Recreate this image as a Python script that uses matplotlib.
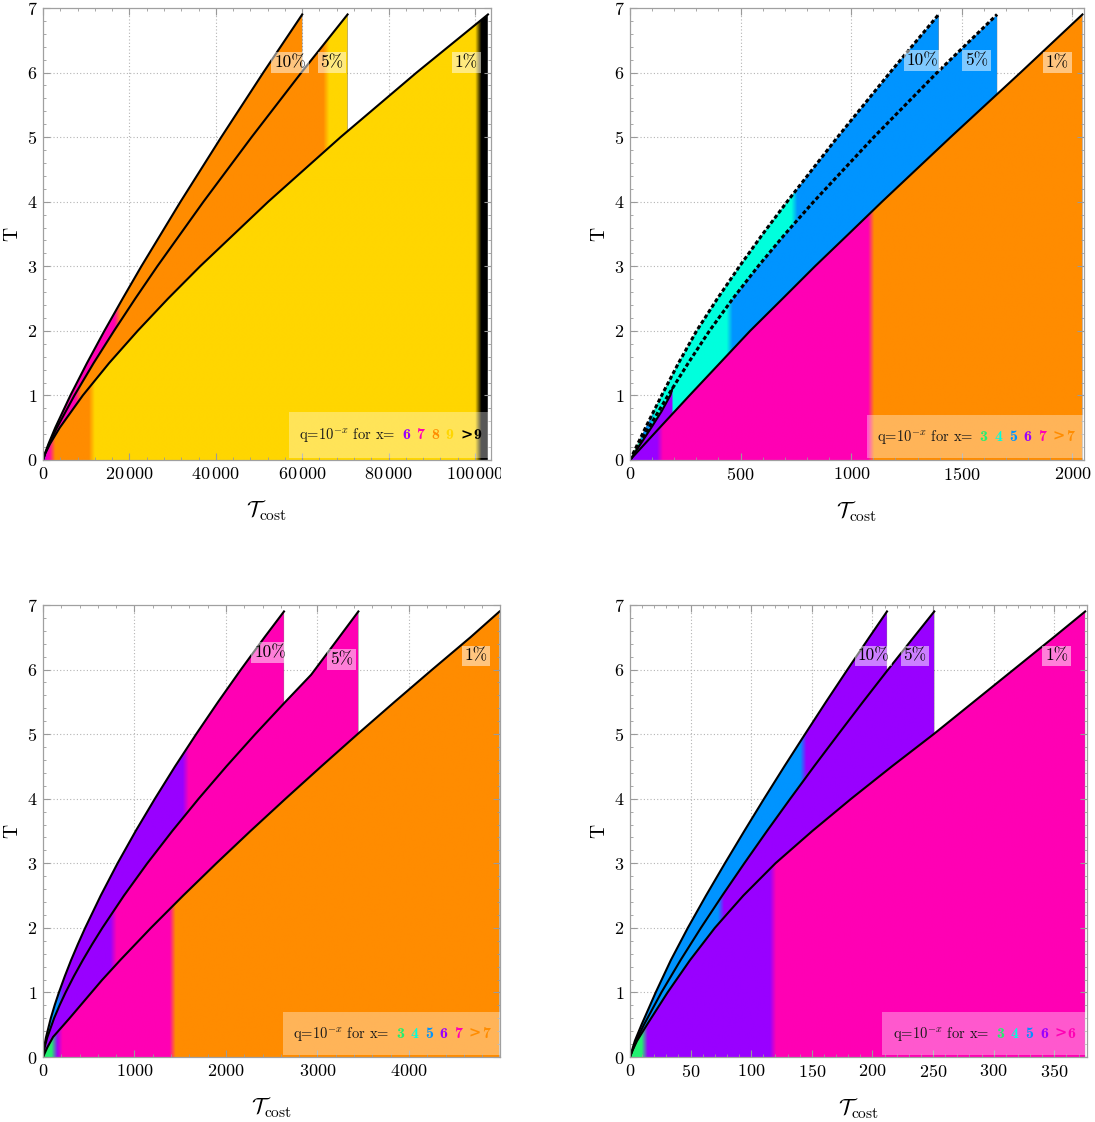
import numpy as np
import matplotlib
matplotlib.use("Agg")
import matplotlib.pyplot as plt
import matplotlib.colors as mcolors
from matplotlib.patches import Rectangle
from matplotlib.offsetbox import TextArea, HPacker, AnchoredOffsetbox
from matplotlib.ticker import MultipleLocator, FuncFormatter

plt.rcParams["font.family"] = ["cmr10", "DejaVu Serif"]
plt.rcParams["mathtext.fontset"] = "cm"
plt.rcParams["axes.unicode_minus"] = False
plt.rcParams["axes.formatter.use_mathtext"] = True

# colour for each exponent x of q = 10^-x (10 stands for "above 9")
Q_COLOURS = {3: "#22f070", 4: "#00ffdd", 5: "#0094ff", 6: "#9900ff",
             7: "#ff00b4", 8: "#ff8c00", 9: "#ffd600", 10: "#000000"}

# ---------------- panel (a): top left ----------------
A_T = [0, 0.1, 0.25, 0.5, 1, 1.5, 2, 2.5, 3, 4, 5, 6, 6.9]
A_X10 = [0, 440, 1270, 2830, 6340, 10170, 14210, 18440, 22770, 31830, 41260, 50990, 60000]
A_X5 = [0, 490, 1420, 3220, 7270, 11710, 16440, 21360, 26460, 37140, 48280, 59800, 70500]
A_X1 = [0, 520, 1630, 3870, 9210, 15290, 21910, 28950, 36370, 52130, 68880, 86470, 103000]
A_BREAKS10, A_Q10 = [17200], [7, 8]
A_BREAKS5, A_Q5 = [8100, 65600], [7, 8, 9]
A_BREAKS1, A_Q1 = [400, 2100, 11300, 100800], [6, 7, 8, 9, 10]
A_KEY = ["6", "7", "8", "9", ">9"]
A_KEY_Q = [6, 7, 8, 9, 10]

# ---------------- panel (b): top right ----------------
B_T = [0, 0.5, 1, 1.5, 2, 2.5, 3, 3.5, 4, 5, 6, 6.9]
B_X10 = [0, 70, 143, 219, 301, 395, 495, 600, 710, 938, 1175, 1395]
B_X5 = [0, 85, 172, 263, 359, 465, 579, 701, 830, 1102, 1388, 1659]
B_X1 = [0, 134, 269, 406, 543, 690, 836, 988, 1139, 1449, 1765, 2045]
B_TIN = [0, 0.25, 0.5, 0.75, 1, 1.11]
B_XIN = [0, 48, 96, 142, 182, 192]
B_BREAKS10, B_Q10 = [45, 100, 743], [3, 5, 4, 5]
B_BREAKS5, B_Q5 = [100, 450], [5, 4, 5]
B_BREAKSIN, B_QIN = [], [6]
B_BREAKS1, B_Q1 = [135, 1090], [6, 7, 8]
B_KEY = ["3", "4", "5", "6", "7", ">7"]
B_KEY_Q = [3, 4, 5, 6, 7, 8]

# ---------------- panel (c): bottom left ----------------
C_T10 = [0, 0.15, 0.3, 0.6, 0.8, 1, 1.25, 1.5, 1.75, 2, 2.5, 3, 3.5, 4, 4.5, 5, 5.5, 6, 6.5, 6.9]
C_X10 = [0, 12, 32, 85, 127, 174, 238, 307, 382, 461, 631, 815, 1013, 1223, 1443, 1674, 1914,
         2163, 2421, 2634]
C_T5 = [0, 0.15, 0.3, 0.6, 0.8, 1, 1.25, 1.5, 1.75, 2, 2.5, 3, 3.5, 4, 4.5, 5, 5.5, 5.92, 6.4, 6.9]
C_X5 = [0, 18, 46, 121, 181, 247, 337, 435, 539, 649, 885, 1140, 1413, 1701, 2004, 2320, 2649,
        2931, 3184, 3447]
C_T1 = [0, 0.15, 0.31, 0.6, 1.19, 1.5, 2, 2.5, 3, 3.5, 4, 4.5, 5, 5.5, 6, 6.5, 6.9]
C_X1 = [0, 48, 110, 290, 644, 844, 1180, 1532, 1895, 2268, 2651, 3041, 3438, 3843, 4254, 4672, 4990]
C_BREAKS10, C_Q10 = [25, 190, 1560], [3, 5, 6, 7]
C_BREAKS5, C_Q5 = [770], [6, 7]
C_BREAKS1, C_Q1 = [125, 180, 1415], [3, 6, 7, 8]
C_KEY = ["3", "4", "5", "6", "7", ">7"]
C_KEY_Q = [3, 4, 5, 6, 7, 8]

# ---------------- panel (d): bottom right ----------------
D_T = [0, 0.25, 0.5, 1, 1.5, 2, 2.5, 3, 3.5, 4, 4.5, 5, 5.5, 6, 6.5, 6.9]
D_X10 = [0, 4, 9.5, 21.2, 33.7, 47.7, 62.7, 78.3, 94.3, 110.6, 127.3, 144.4, 161.7, 179.4, 197.4, 212]
D_X5 = [0, 5, 11.5, 25.9, 41.7, 58.5, 76.1, 94.3, 113, 132.2, 151.8, 171.9, 192.2, 212.9, 234, 251]
D_T1 = [0, 0.1, 0.25, 0.5, 1, 1.5, 2, 2.5, 3, 3.5, 4, 4.5, 5, 5.5, 6, 6.5, 6.9]
D_X1 = [0, 2, 5.8, 14, 31, 49.5, 70, 93.5, 120, 150.4, 182.5, 216, 250.5, 283.5, 316.5, 349.5, 375.5]
D_BREAKS10, D_Q10 = [5, 143], [3, 5, 6]
D_BREAKS5, D_Q5 = [4, 75], [3, 5, 6]
D_BREAKS1, D_Q1 = [12, 118], [3, 6, 7]
D_KEY = ["3", "4", "5", "6", ">6"]
D_KEY_Q = [3, 4, 5, 6, 7]

PCT = ["10%", "5%", "1%"]

W, H = 1095, 1122
fig = plt.figure(figsize=(W / 100, H / 100), dpi=100)


def ramp(xs, breaks, qs, width):
    cols = [np.array(mcolors.to_rgb(Q_COLOURS[q])) for q in qs]
    out = np.tile(cols[0], (len(xs), 1))
    for b, c in zip(breaks, cols[1:]):
        t = np.clip((xs - b) / width + 0.5, 0, 1)[:, None]
        out = out * (1 - t) + c[None, :] * t
    return out


def tick_fmt(v, pos):
    iv = int(round(v))
    s = f"{iv:,}".replace(",", r"\,") if iv >= 10000 else str(iv)
    return f"${s}$"


def key_entry(label, colour):
    bold = dict(fontsize=11.5, color=colour, family=["cmb10", "DejaVu Serif"])
    if label.startswith(">"):
        gt = TextArea(">", textprops=dict(fontsize=10.5, color=colour, family="DejaVu Serif",
                                          weight="bold"))
        return HPacker(children=[gt, TextArea(label[1:], textprops=bold)], align="baseline",
                       pad=0, sep=0.5)
    return TextArea(label, textprops=bold)


def panel(rect, xmax, major, minor, curves, bands, styles, label_pos, key, key_q, box):
    ax = fig.add_axes(rect)
    ax.set_xlim(0, xmax)
    ax.set_ylim(0, 7)
    px_per_unit = rect[2] * W / xmax

    # colour field of the admissible regions
    nx, ny = 1400, 900
    xs = np.linspace(0, xmax, nx)
    ys = np.linspace(0, 7, ny)
    img = np.zeros((ny, nx, 4))
    width = 6.0 / px_per_unit
    for upper, lower, breaks, qs in bands:
        up = np.interp(xs, upper[0], upper[1])
        lo = np.zeros_like(xs) if lower is None else np.interp(xs, lower[0], lower[1])
        x_end = upper[0][-1]
        rgb = ramp(xs, breaks, qs, width)
        mask = (ys[:, None] <= up[None, :]) & (ys[:, None] >= lo[None, :]) & (xs[None, :] <= x_end)
        img[..., :3] = np.where(mask[..., None], rgb[None, :, :], img[..., :3])
        img[..., 3] = np.where(mask, 1.0, img[..., 3])
    ax.imshow(img, extent=[0, xmax, 0, 7], origin="lower", aspect="auto",
              interpolation="antialiased", zorder=1)

    for (cx, cT), st in zip(curves, styles):
        if st == "dash":
            ax.plot(cx, cT, color="k", lw=2.2, ls=(0, (1.3, 0.8)), zorder=3)
        else:
            ax.plot(cx, cT, color="k", lw=1.5, zorder=3, solid_joinstyle="round")

    ax.xaxis.set_major_locator(MultipleLocator(major))
    ax.xaxis.set_minor_locator(MultipleLocator(minor))
    ax.yaxis.set_major_locator(MultipleLocator(1))
    ax.yaxis.set_minor_locator(MultipleLocator(0.2))
    ax.xaxis.set_major_formatter(FuncFormatter(tick_fmt))
    ax.yaxis.set_major_formatter(FuncFormatter(tick_fmt))
    ax.tick_params(which="both", direction="in", top=True, right=True,
                   color="#9a9a9a", labelsize=13, pad=4)
    ax.tick_params(which="major", length=5, width=0.8)
    ax.tick_params(which="minor", length=2.5, width=0.6)
    for s in ax.spines.values():
        s.set_color("#a0a0a0")
        s.set_linewidth(0.9)
        s.set_zorder(4)

    grid_kw = dict(color="#b4b4b4", lw=0.8, ls=(0, (1, 2)), zorder=0.5)
    for v in ax.get_xticks():
        if 0 < v < xmax:
            ax.axvline(v, **grid_kw)
    for v in ax.get_yticks():
        if 0 < v < 7:
            ax.axhline(v, **grid_kw)

    ax.set_xlabel(r"$\mathcal{T}_{\rm cost}$", fontsize=16, labelpad=12)
    ax.set_ylabel("T", fontsize=14)
    ax.yaxis.set_label_coords(-22 / (rect[2] * W), 0.5)

    for (lx, lt), txt in zip(label_pos, PCT):
        ax.text(lx, lt, txt, ha="center", va="center", fontsize=12.5, zorder=6,
                bbox=dict(facecolor="white", alpha=0.5, edgecolor="none", pad=2))

    # key: q = 10^-x with the exponents in their colours
    x0, y0, x1, y1 = box
    ax.add_patch(Rectangle((x0, y0), x1 - x0, y1 - y0, transform=ax.transAxes,
                           facecolor="white", alpha=0.35, edgecolor="none", zorder=5))
    parts = [TextArea(r"q=10$^{-x}$ for x=", textprops=dict(fontsize=10.5, color="#1a1a1a"))]
    for k, q in zip(key, key_q):
        parts.append(key_entry(k, Q_COLOURS[q]))
    pack = HPacker(children=parts, align="baseline", pad=0, sep=4.8)
    anch = AnchoredOffsetbox(loc="center", child=pack, frameon=False, pad=0, borderpad=0,
                             bbox_to_anchor=((x0 + x1) / 2, (y0 + y1) / 2),
                             bbox_transform=ax.transAxes)
    anch.set_zorder(7)
    ax.add_artist(anch)
    return ax


# panel (a)
panel([43 / W, 1 - 460 / H, 448 / W, 452 / H], 103700, 20000, 4000,
      [(A_X10, A_T), (A_X5, A_T), (A_X1, A_T)],
      [((A_X10, A_T), (A_X5, A_T), A_BREAKS10, A_Q10),
       ((A_X5, A_T), (A_X1, A_T), A_BREAKS5, A_Q5),
       ((A_X1, A_T), None, A_BREAKS1, A_Q1)],
      ["solid", "solid", "solid"],
      [(57200, 6.16), (66900, 6.16), (98000, 6.16)],
      A_KEY, A_KEY_Q, (0.549, 0.004, 1.0, 0.106))

# panel (b)
panel([630 / W, 1 - 460 / H, 454 / W, 452 / H], 2052, 500, 100,
      [(B_X10, B_T), (B_X5, B_T), (B_X1, B_T), (B_XIN, B_TIN)],
      [((B_X10, B_T), (B_X5, B_T), B_BREAKS10, B_Q10),
       ((B_X5, B_T), (B_X1, B_T), B_BREAKS5, B_Q5),
       ((B_XIN, B_TIN), (B_X1, B_T), B_BREAKSIN, B_QIN),
       ((B_X1, B_T), None, B_BREAKS1, B_Q1)],
      ["dash", "dash", "solid", "solid"],
      [(1321, 6.19), (1566, 6.19), (1932, 6.16)],
      B_KEY, B_KEY_Q, (0.521, 0.004, 1.0, 0.0996))

# panel (c)
panel([43 / W, 1 - 1057 / H, 457 / W, 452 / H], 4995, 1000, 200,
      [(C_X10, C_T10), (C_X5, C_T5), (C_X1, C_T1)],
      [((C_X10, C_T10), (C_X5, C_T5), C_BREAKS10, C_Q10),
       ((C_X5, C_T5), (C_X1, C_T1), C_BREAKS5, C_Q5),
       ((C_X1, C_T1), None, C_BREAKS1, C_Q1)],
      ["solid", "solid", "solid"],
      [(2481, 6.27), (3260, 6.15), (4731, 6.21)],
      C_KEY, C_KEY_Q, (0.525, 0.004, 1.0, 0.0996))

# panel (d)
panel([630 / W, 1 - 1057 / H, 457 / W, 452 / H], 377, 50, 10,
      [(D_X10, D_T), (D_X5, D_T), (D_X1, D_T1)],
      [((D_X10, D_T), (D_X5, D_T), D_BREAKS10, D_Q10),
       ((D_X5, D_T), (D_X1, D_T1), D_BREAKS5, D_Q5),
       ((D_X1, D_T1), None, D_BREAKS1, D_Q1)],
      ["solid", "solid", "solid"],
      [(201, 6.21), (235, 6.21), (352, 6.21)],
      D_KEY, D_KEY_Q, (0.551, 0.004, 1.0, 0.0996))

# the first panel's last tick label is cut at the panel gap
fig.patches.append(Rectangle((501 / W, 1 - 492 / H), 25 / W, 28 / H, transform=fig.transFigure,
                             facecolor="white", edgecolor="none", zorder=10))

fig.savefig("out.png", dpi=100)
